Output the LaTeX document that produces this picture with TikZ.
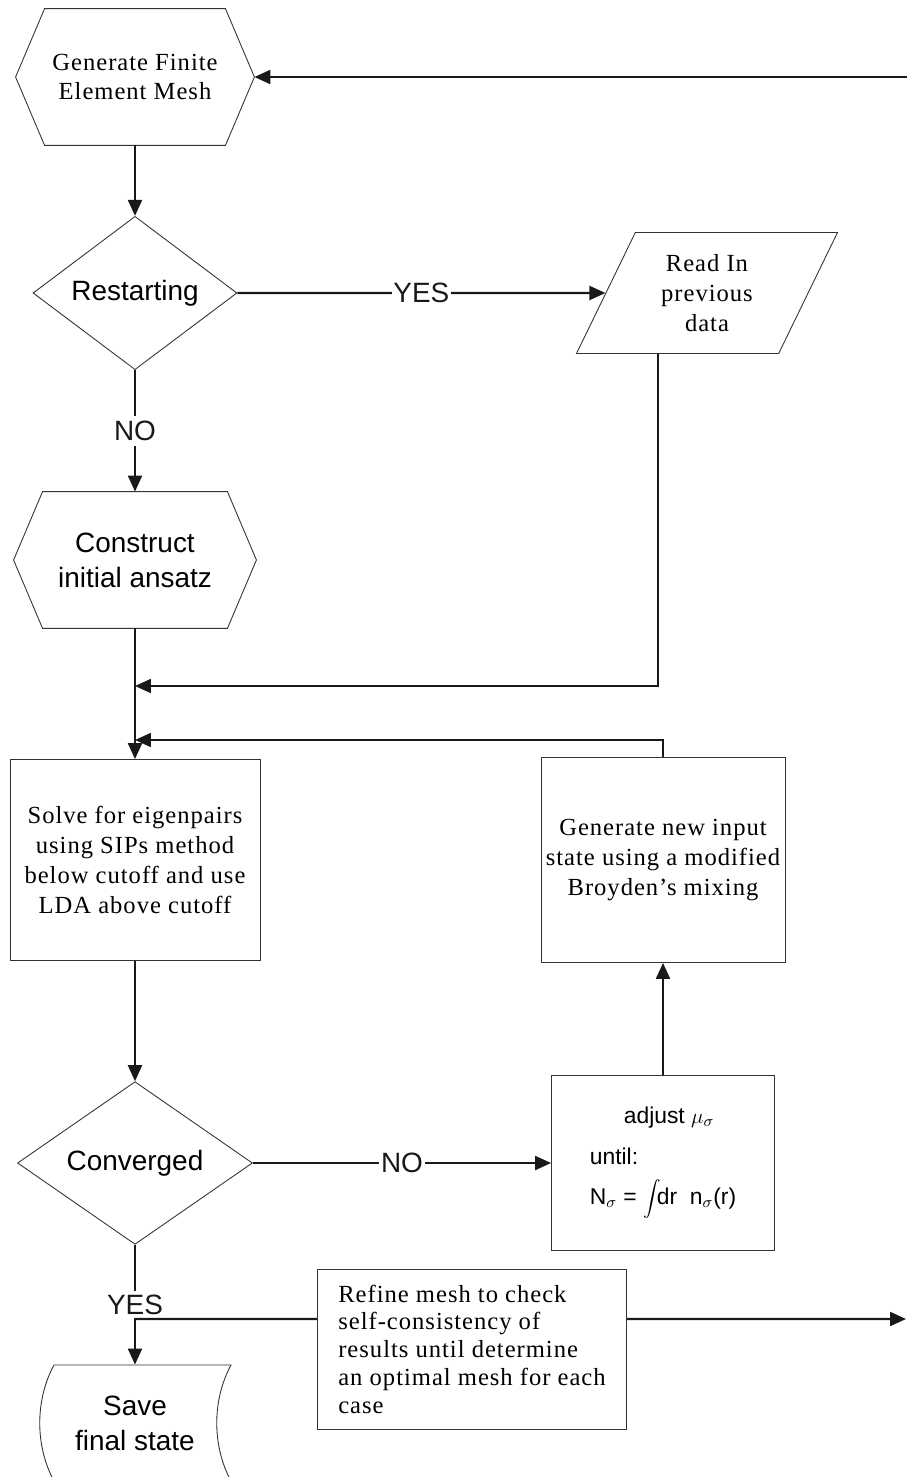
\documentclass[tikz,border=0pt]{standalone}
\usepackage{fontspec}
\setmainfont{Liberation Serif}
\setsansfont{Liberation Sans}
\newfontfamily\boxserif{Liberation Serif}[LetterSpace=4]
\usetikzlibrary{shapes.geometric,arrows.meta,calc}

\begin{document}
\begin{tikzpicture}[x=0.02cm, y=-0.02cm,
  >={Triangle[length=0.32cm,width=0.28cm]},
  conn/.style={->, line width=1.2pt, black!90},
  outline/.style={draw=black!80, line width=0.5pt},
  serifbox/.style={outline, font=\boxserif\fontsize{14}{17}\selectfont, align=center, inner sep=0pt},
  sansbox/.style={outline, font=\sffamily\fontsize{15.9}{19.8}\selectfont, align=center, inner sep=0pt},
  decision/.style={diamond, sansbox},
  answer/.style={fill=white, font=\sffamily\fontsize{15.9}{19}\selectfont, inner sep=1pt}]

\useasboundingbox (0,0) rectangle (907,1477);

% Left column
\node[serifbox, draw=none, minimum width=4.76cm, minimum height=2.72cm] (mesh) at (135,77) {Generate Finite\\Element Mesh};
\node[decision, minimum width=4.08cm, minimum height=2.46cm] (restart) at (135,293) {Restarting};
\node[sansbox, draw=none, minimum width=4.84cm, minimum height=2.72cm] (ansatz) at (135,560) {Construct\\initial ansatz};
\node[rectangle, serifbox, minimum width=5cm, minimum height=4.02cm] (solve) at (135,860) {Solve for eigenpairs\\using SIPs method\\below cutoff and use\\LDA above cutoff};
\node[decision, minimum width=4.7cm, minimum height=2.8cm] (conv) at (135,1163) {Converged};
\node[sansbox, draw=none, minimum height=2.32cm] (save) at (135,1423) {Save\\final state};

% Hexagon outlines
\foreach \n in {mesh,ansatz} {
  \draw[outline] (\n.west) -- ($(\n.north west)+(29,0)$) -- ($(\n.north east)+(-29,0)$)
    -- (\n.east) -- ($(\n.south east)+(-29,0)$) -- ($(\n.south west)+(29,0)$) -- cycle;
}

% Save shape (stored data)
\draw[outline] (54,1365) -- (231,1365) .. controls (212,1400) and (212,1446) .. (231,1481);
\draw[outline] (54,1365) .. controls (35,1400) and (35,1446) .. (54,1481);

% Right column
\node[trapezium, trapezium left angle=64, trapezium right angle=116, trapezium stretches=true,
      serifbox, minimum width=5.24cm, minimum height=2.42cm] (readin) at (707,293) {Read In\\previous\\data};
\node[rectangle, serifbox, minimum width=4.88cm, minimum height=4.1cm] (newinput) at (663,860) {Generate new input\\state using a modified\\Broyden’s mixing};
\node[rectangle, outline, font=\sffamily\fontsize{13}{23}\selectfont, align=left, inner sep=0pt,
      minimum width=4.46cm, minimum height=3.5cm] (adjust) at (663,1163)
      {\hspace*{0.68cm}adjust $\mu_\sigma$\\until:\\N$_\sigma$ = $\displaystyle\int$\!dr\; n$_\sigma$(r)};
\node[rectangle, serifbox, align=left, font=\boxserif\fontsize{14}{15.8}\selectfont,
      minimum width=6.18cm, minimum height=3.2cm] (refine) at (472,1349)
      {Refine mesh to check\\self-consistency of\\results until determine\\an optimal mesh for each\\case};

% Free ends and junctions
\coordinate (meshin) at (907,77);
\coordinate (joinA) at (135,686);
\coordinate (joinB) at (135,740);
\coordinate (joinC) at (135,1319);
\coordinate (refineout) at (906,1319);

% Connectors
\draw[conn] (meshin) -- (mesh.east);
\draw[conn] (mesh.south) -- (restart.north);
\draw[conn] (restart.east) -- node[answer] {YES} (readin.west);
\draw[conn] (restart.south) -- node[answer, inner sep=3pt] {NO} (ansatz.north);
\draw[conn] (ansatz.south) -- (solve.north);
\draw[conn] ([xshift=-0.98cm]readin.south) |- (joinA);
\draw[conn] (newinput.north) |- (joinB);
\draw[conn] (solve.south) -- (conv.north);
\draw[conn] (conv.east) -- node[answer] {NO} (adjust.west);
\draw[conn] (adjust.north) -- (newinput.south);
\draw[conn] (conv.south) -- node[answer, inner sep=2pt] {YES} (save.north);
\draw[line width=1.2pt, black!90] ([yshift=0.6cm]refine.west) -- (joinC);
\draw[conn] ([yshift=0.6cm]refine.east) -- (refineout);

\end{tikzpicture}
\end{document}
